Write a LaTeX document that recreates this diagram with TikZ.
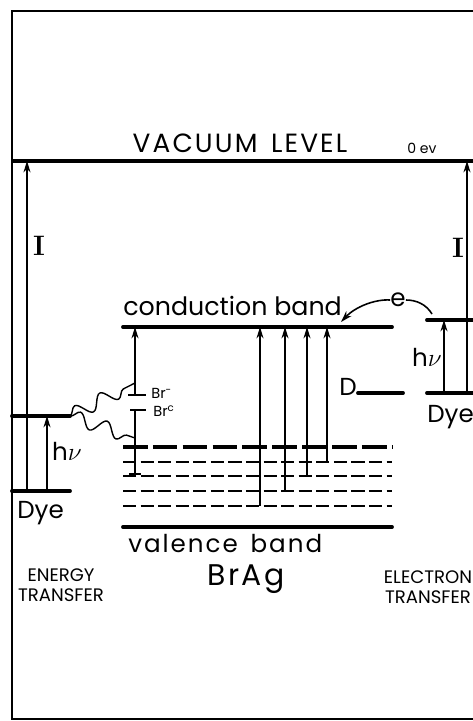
\documentclass[tikz,border=0pt]{standalone}
\usepackage{fontspec}
\setmainfont{Poppins}
\newfontfamily\widefont[LetterSpace=8,WordSpace=1.5]{Poppins}
\newfontfamily\lmfont{Latin Modern Roman}
\usetikzlibrary{arrows.meta, positioning, decorations.pathmorphing}

\tikzset{
  level/.style={line width=2.2pt, line cap=round},
  trap/.style={line width=1.4pt, dash pattern=on 7.5pt off 2.5pt},
  deeptrap/.style={line width=2.1pt, dash pattern=on 14pt off 3pt},
  up/.style={-{Stealth[length=6.5pt,width=4pt]}, line width=0.9pt},
  wave/.style={decorate, decoration={snake, segment length=16pt, amplitude=4pt}, line width=0.8pt},
  big/.style={font=\fontsize{14}{16}\selectfont, inner sep=0pt},
  wide/.style={font=\widefont\fontsize{14}{16}\selectfont, inner sep=0pt},
  small/.style={font=\fontsize{10.3}{11.5}\selectfont, inner sep=0pt, align=center},
  tiny/.style={font=\fontsize{8.3}{9}\selectfont, inner sep=0pt},
  serifI/.style={font=\lmfont\bfseries\fontsize{16}{18}\selectfont, inner sep=0pt},
}

\begin{document}
\begin{tikzpicture}[>=Stealth, x=0.02cm, y=-0.02cm]
  \useasboundingbox (0,0) rectangle (473,721);
  \clip (0,0) rectangle (473,721);
  \draw[line width=1.6pt] (12,11) rectangle (520,719);
  \coordinate (vacL) at (12,161);
  \coordinate (vacR) at (520,161);
  \draw[line width=2.4pt] (vacL) -- (vacR);
  \node[wide, font=\widefont\fontsize{15}{17}\selectfont, anchor=base] (vac) at (240,152) {VACUUM LEVEL};
  \node[tiny, font=\fontsize{8}{9}\selectfont, anchor=base] (zero) at (422,153) {0 ev};

  % AgBr bands and traps
  \coordinate (cbL) at (123,327); \coordinate (cbR) at (392,327);
  \coordinate (vbL) at (123,527); \coordinate (vbR) at (392,527);
  \draw[level] (cbL) -- (cbR);
  \draw[level] (vbL) -- (vbR);
  \node[big, font=\fontsize{14.4}{16}\selectfont, anchor=base west] (cbtxt) at (123,315) {conduction band};
  \node[wide, anchor=base west] (vbtxt) at (128,552) {valence band};
  \node[wide, font=\widefont\fontsize{17}{19}\selectfont, anchor=base] (agbr) at (246,585) {BrAg};
  \draw[deeptrap] (123,447) coordinate (trap1) -- (392,447);
  \foreach \y/\n in {462/2,476/3,491/4,506/5}
    \draw[trap] (123,\y) coordinate (trap\n) -- (392,\y);
  \foreach \x/\n in {260/5,285/4,307/3,327/2}{
    \coordinate (col\n) at (\x,0);
    \draw[up] (col\n |- trap\n) -- (col\n |- cbL);
  }

  % bromide levels
  \coordinate (brm) at (135,395);
  \coordinate (bro) at (135,410);
  \coordinate (brb) at (135,474);
  \draw[up] (brm) -- (brm |- cbL);
  \draw[line width=0.9pt] (brm) ++(-7,0) -- ++(18,0);
  \draw[line width=0.9pt] (bro) ++(-5,0) -- ++(16,0);
  \draw[line width=0.9pt] (bro) -- (brb) ++(-6,0) -- ++(12,0);
  \node[tiny, anchor=west] (brmtxt) at (151,393) {Br\textsuperscript{-}};
  \node[tiny, anchor=west] (brotxt) at (153,411) {Br\textsuperscript{c}};
  \coordinate (wA) at (135,383);
  \coordinate (wB) at (135,438);

  % energy transfer dye
  \coordinate (dyeLup) at (70,416);
  \coordinate (dyeLlo) at (70,491);
  \coordinate (icolL) at (27,0); \coordinate (hcolL) at (47,0);
  \draw[level] (vacL |- dyeLup) -- (dyeLup);
  \draw[level] (vacL |- dyeLlo) -- (dyeLlo);
  \draw[up] (icolL |- dyeLlo) -- (icolL |- vacL);
  \draw[up] (hcolL |- dyeLlo) -- (hcolL |- dyeLup);
  \draw[wave] (dyeLup) -- (wA);
  \draw[wave] (dyeLup) -- (wB);
  \node[serifI] (iL) at (39,246) {I};
  \node[big] (hvL) at (67,451) {h$\nu$};
  \node[big, anchor=base west] (dyeLtxt) at (17,518) {Dye};
  \node[small] (entr) at (61,585) {ENERGY\\TRANSFER};

  % electron transfer dye
  \coordinate (dyeRup) at (427,320);
  \coordinate (dyeRlo) at (427,393);
  \coordinate (icolR) at (467,0); \coordinate (hcolR) at (444,0);
  \draw[level] (dyeRup) -- ++(90,0);
  \draw[level] (dyeRlo) -- ++(90,0);
  \draw[up] (icolR |- dyeRlo) -- (icolR |- vacL);
  \draw[up] (hcolR |- dyeRlo) -- (hcolR |- dyeRup);
  \node[serifI] (iR) at (458,248) {I};
  \node[big] (hvR) at (427,357) {h$\nu$};
  \node[big, anchor=base west] (dyeRtxt) at (427,422) {Dye};
  \node[small] (eltr) at (428,587) {ELECTRON\\TRANSFER};
  \coordinate (dL) at (358,393); \coordinate (dR) at (403,393);
  \draw[level] (dL) -- (dR);
  \node[big, anchor=base east] (dtxt) at (357,395) {D};
  \node[big] (e) at (398,300) {e};
  \coordinate (eS) at (432,314);
  \coordinate (eT) at (341,322);
  \draw[line width=0.9pt] (eS) .. controls (426,304) and (416,300) .. (e.east);
  \draw[up] (e.west) .. controls (375,299) and (355,307) .. (eT);
\end{tikzpicture}
\end{document}
